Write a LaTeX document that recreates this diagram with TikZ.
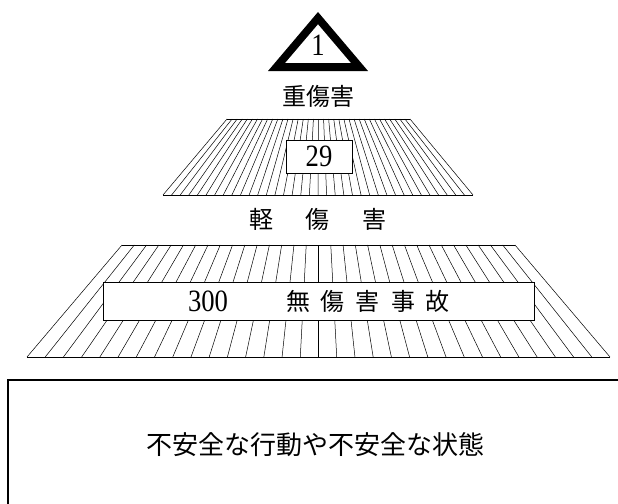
\documentclass[tikz,border=0pt]{standalone}
\usepackage{fontspec}
\newfontfamily\jpfont{Noto Sans CJK JP}
\newfontfamily\numfont[FakeStretch=0.86]{Liberation Serif}
\begin{document}
\begin{tikzpicture}[x=1pt,y=-1pt,
  hatch/.style={line width=0.5pt},
  edge/.style={line width=0.8pt},
  numbox/.style={rectangle,draw,fill=white,line width=0.8pt,inner sep=0pt},
  digits/.style={font=\numfont\fontsize{31}{31}\selectfont},
  kanji/.style={font=\jpfont\fontsize{24}{24}\selectfont}]
  \useasboundingbox (0,0) rectangle (618,503);
  \clip (0,0) rectangle (618,503);
  % top: triangle with 1
  \fill (318,12) -- (368,71) -- (268,71) -- cycle;
  \fill[white] (318,24.4) -- (350.8,63) -- (285.2,63) -- cycle;
  \node[digits] (one) at (318,45) {1};
  \node[kanji] (serious) at (318,96) {重傷害};
  % middle trapezoid, 29
  \foreach \i in {0,...,36}
    \draw[hatch] ({227+\i/36*183},119) -- ({163+\i/36*310},195);
  \draw[edge] (227,119) -- (410,119);
  \draw[edge] (163,195) -- (473,195);
  \node[numbox,minimum width=66pt,minimum height=33pt] (minorbox) at (319,156.5) {};
  \node[digits] (minornum) at (319,156) {29};
  \node[kanji] (minor) at (318,219) {軽\hspace{32.5pt}傷\hspace{32.5pt}害};
  % lower trapezoid, 300
  \foreach \i in {0,...,32}
    \draw[hatch] ({122+\i/32*393},245) -- ({27+\i/32*583},357);
  \draw[edge] (122,245) -- (515,245);
  \draw[edge] (27,357) -- (610,357);
  \node[numbox,minimum width=431pt,minimum height=38pt] (nearbox) at (318.5,301) {};
  \node[digits] (nearnum) at (208,301) {300};
  \node[kanji] (near) at (368,301) {無\hspace{11pt}傷\hspace{11pt}害\hspace{11pt}事\hspace{11pt}故};
  % bottom: base box
  \draw[line width=1.2pt] (630,380) -- (8,380) -- (8,515);
  \node[font=\jpfont\fontsize{26}{26}\selectfont] (unsafe) at (315,445) {不安全な行動や不安全な状態};
\end{tikzpicture}
\end{document}
